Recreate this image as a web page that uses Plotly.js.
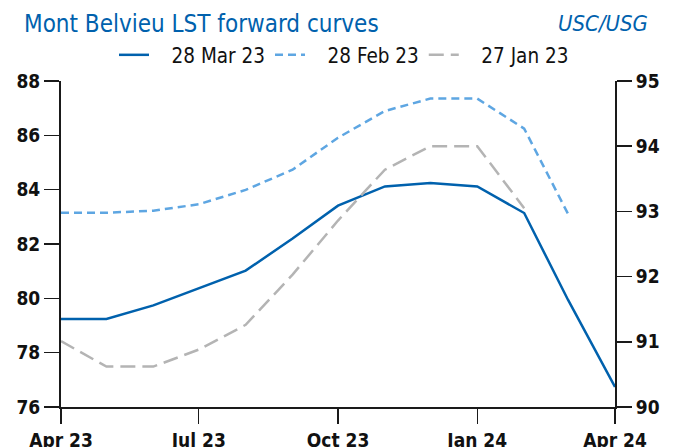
<!DOCTYPE html>
<html>
<head>
<meta charset="utf-8">
<script src="https://cdn.plot.ly/plotly-3.0.1.min.js"></script>
<style>html,body{margin:0;padding:0;background:#fff;}#chart{width:675px;height:447px;}</style>
</head>
<body>
<div id="chart"></div>
<script>
const months = ['2023-04-01','2023-05-01','2023-06-01','2023-07-01','2023-08-01','2023-09-01','2023-10-01','2023-11-01','2023-12-01','2024-01-01','2024-02-01','2024-03-01','2024-04-01'];
const mar23 = [79.24, 79.24, 79.74, 80.37, 81.02, 82.2, 83.41, 84.12, 84.25, 84.12, 83.14, 79.94, 76.74];
const feb23 = [92.98, 92.98, 93.01, 93.11, 93.33, 93.64, 94.13, 94.54, 94.73, 94.73, 94.27, 92.96];
const jan23 = [91.01, 90.62, 90.62, 90.88, 91.26, 92.03, 92.86, 93.64, 94.0, 94.0, 93.05];
const seriesNames = ['28 Mar 23', '28 Feb 23', '27 Jan 23'];
const xTickVals = ['2023-04-01','2023-07-01','2023-10-01','2024-01-01','2024-04-01'];
const xTickText = ['Apr 23','Jul 23','Oct 23','Jan 24','Apr 24'];
const leftTicks = [76, 78, 80, 82, 84, 86, 88];
const rightTicks = [90, 91, 92, 93, 94, 95];

const FONT = 'DejaVu Sans Condensed, DejaVu Sans, sans-serif';
const PAD = '\u00a0\u00a0\u00a0';
const traces = [
  {x: months.slice(0, mar23.length), y: mar23, name: PAD + seriesNames[0], type: 'scatter', mode: 'lines',
   line: {color: '#0061AD', width: 2.5}, yaxis: 'y'},
  {x: months.slice(0, feb23.length), y: feb23, name: PAD + seriesNames[1], type: 'scatter', mode: 'lines',
   line: {color: '#5EA6E2', width: 2.5, dash: '8px,5px'}, yaxis: 'y2'},
  {x: months.slice(0, jan23.length), y: jan23, name: PAD + seriesNames[2], type: 'scatter', mode: 'lines',
   line: {color: '#B4B4B4', width: 2.5, dash: '15px,7px'}, yaxis: 'y2'}
];
const axisCommon = {
  showgrid: false, zeroline: false, showline: true, linecolor: '#1a1a1a', linewidth: 2,
  ticks: 'outside', ticklen: 15, tickwidth: 1.5, tickcolor: '#1a1a1a',
  tickfont: {family: FONT, size: 19, color: '#111', weight: 'bold'}
};
const layout = {
  width: 675, height: 447,
  margin: {l: 61, r: 60, t: 81, b: 40},
  paper_bgcolor: '#fff', plot_bgcolor: '#fff',
  showlegend: true,
  legend: {orientation: 'h', x: 344/675, xanchor: 'center', xref: 'container', y: 1 - 55/447, yanchor: 'middle',
    yref: 'container', font: {family: FONT, size: 20.5, color: '#111'}, itemwidth: 30, traceorder: 'normal',
    bgcolor: 'rgba(0,0,0,0)'},
  title: {text: 'Mont Belvieu LST forward curves', x: 24/675, xanchor: 'left', xref: 'container',
    y: 1 - 24/447, yanchor: 'middle', yref: 'container',
    font: {family: FONT, size: 24, color: '#0061AD'}},
  annotations: [{text: 'USC/USG', xref: 'paper', yref: 'paper', x: (650-61)/554, xanchor: 'right',
    y: 1 + (81-24)/326, yanchor: 'middle', showarrow: false,
    font: {family: FONT, size: 22, color: '#0061AD', style: 'italic'}}],
  xaxis: Object.assign({}, axisCommon, {type: 'date', range: ['2023-04-01','2024-04-01'],
    tickvals: xTickVals, ticktext: xTickText, showline: true}),
  yaxis: Object.assign({}, axisCommon, {range: [76, 88], tickvals: leftTicks}),
  yaxis2: Object.assign({}, axisCommon, {range: [90, 95], tickvals: rightTicks, overlaying: 'y', side: 'right'})
};
Plotly.newPlot('chart', traces, layout, {displayModeBar: false, staticPlot: true});
</script>
</body>
</html>
